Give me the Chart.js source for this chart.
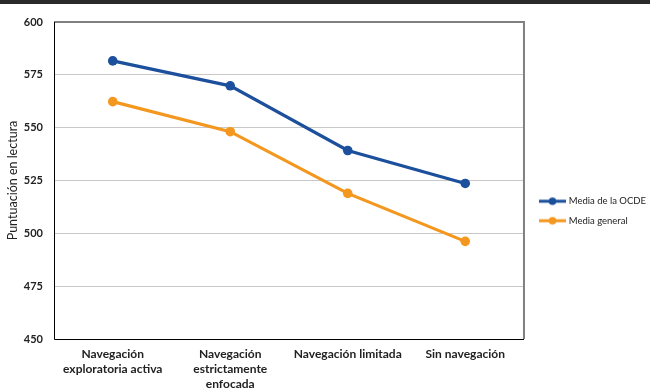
<!DOCTYPE html>
<html>
<head>
<meta charset="utf-8">
<script src="https://cdn.jsdelivr.net/npm/chart.js@4"></script>
<style>
  html, body { margin: 0; padding: 0; background: #fff; }
  #wrap { width: 650px; height: 390px; box-sizing: border-box; border-top: 4px solid #2a2a2a; position: relative; }
  #chart { display: block; }
</style>
</head>
<body>
<div id="wrap"><canvas id="chart" width="650" height="386"></canvas></div>
<script>
var categories = [
    ['Navegación', 'exploratoria activa'],
    ['Navegación', 'estrictamente', 'enfocada'],
    'Navegación limitada',
    'Sin navegación'
];
var ocdeValues = [581.6, 569.8, 539.2, 523.6];
var generalValues = [562.3, 548.1, 518.9, 496.2];
var yTicks = [450, 475, 500, 525, 550, 575, 600];

var blue = '#1c4f9c';
var orange = '#f4971f';

// legend marker: line with a dot, drawn on a wider transparent canvas so it sits
// a bit right of the legend box start and close to the text
var MARK_BOX = 30;
function legendMarker(color) {
    var w = 60, off = 5 - (MARK_BOX / 2 - w / 2);
    var c = document.createElement('canvas');
    c.width = w; c.height = 10;
    var g = c.getContext('2d');
    g.strokeStyle = color;
    g.lineWidth = 3;
    g.beginPath(); g.moveTo(off, 5); g.lineTo(off + 27, 5); g.stroke();
    g.fillStyle = color;
    g.beginPath(); g.arc(off + 13.5, 5, 3.8, 0, Math.PI * 2); g.fill();
    return c;
}

var framePlugin = {
    id: 'frame',
    afterDatasetsDraw: function(chart) {
        var a = chart.chartArea, ctx = chart.ctx;
        ctx.save();
        ctx.strokeStyle = '#808080';
        ctx.lineWidth = 2;
        ctx.beginPath();
        ctx.moveTo(a.left, a.top);
        ctx.lineTo(a.right, a.top);
        ctx.lineTo(a.right, a.bottom);
        ctx.stroke();
        ctx.strokeStyle = '#000';
        ctx.lineWidth = 1;
        ctx.beginPath();
        ctx.moveTo(a.left + 0.5, a.top);
        ctx.lineTo(a.left + 0.5, a.bottom + 0.5);
        ctx.lineTo(a.right, a.bottom + 0.5);
        ctx.stroke();
        ctx.restore();
    }
};

function drawChart() {
    var ctx = document.getElementById('chart').getContext('2d');
    return new Chart(ctx, {
        type: 'line',
        data: {
            labels: categories,
            datasets: [{
                label: 'Media de la OCDE',
                data: ocdeValues,
                borderColor: blue,
                backgroundColor: blue,
                borderWidth: 3.2,
                pointRadius: 4.8,
                pointBorderWidth: 0,
                pointHoverRadius: 4.8,
                tension: 0
            }, {
                label: 'Media general',
                data: generalValues,
                borderColor: orange,
                backgroundColor: orange,
                borderWidth: 3.2,
                pointRadius: 4.8,
                pointBorderWidth: 0,
                pointHoverRadius: 4.8,
                tension: 0
            }]
        },
        options: {
            responsive: false,
            animation: false,
            layout: { padding: { top: 18, right: -6, left: 3, bottom: -10 } },
            scales: {
                x: {
                    offset: true,
                    grid: { display: false, drawTicks: false },
                    border: { display: false },
                    ticks: {
                        color: '#222',
                        font: { family: 'Lato', size: 12, weight: 'bold', lineHeight: 1.25 },
                        maxRotation: 0,
                        autoSkip: false,
                        padding: 8
                    }
                },
                y: {
                    min: 450,
                    max: 600,
                    afterBuildTicks: function(axis) {
                        axis.ticks = yTicks.map(function(v) { return { value: v }; });
                    },
                    afterFit: function(axis) {
                        axis.width = 51; // fixed axis width so the plot starts where the original does
                    },
                    grid: { color: '#c8c8c8', lineWidth: 1, drawTicks: false },
                    border: { display: false },
                    ticks: {
                        color: '#222',
                        font: { family: 'Lato', size: 11, weight: 'bold' },
                        padding: 11
                    },
                    title: {
                        display: true,
                        text: 'Puntuación en lectura',
                        color: '#222',
                        font: { family: 'Lato', size: 12.5 },
                        padding: { top: 2, bottom: 0 }
                    }
                }
            },
            plugins: {
                legend: {
                    position: 'right',
                    labels: {
                        usePointStyle: true,
                        pointStyleWidth: MARK_BOX,
                        color: '#222',
                        font: { family: 'Lato', size: 9.5 },
                        padding: 10,
                        generateLabels: function(chart) {
                            return chart.data.datasets.map(function(ds, i) {
                                return {
                                    text: ds.label,
                                    pointStyle: legendMarker(ds.borderColor),
                                    fillStyle: ds.borderColor,
                                    strokeStyle: ds.borderColor,
                                    lineWidth: 0,
                                    fontColor: '#222',
                                    datasetIndex: i
                                };
                            });
                        }
                    }
                },
                tooltip: { enabled: false }
            }
        },
        plugins: [framePlugin]
    });
}

// make sure Lato is ready before Chart.js measures text
Promise.all([
    document.fonts.load('10px Lato'),
    document.fonts.load('12px Lato'),
    document.fonts.load('bold 12px Lato')
]).then(drawChart, drawChart);
</script>
</body>
</html>
